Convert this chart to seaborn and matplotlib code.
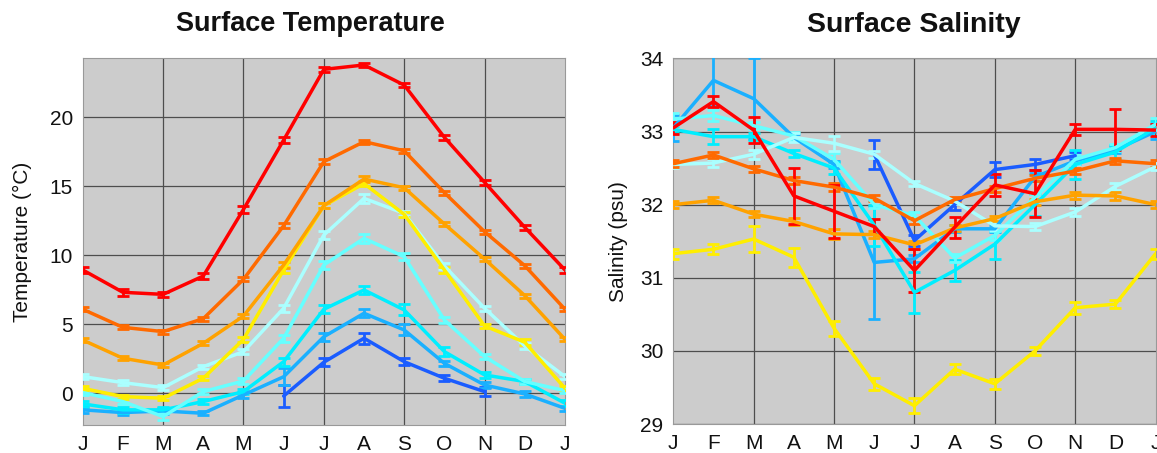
import numpy as np
import pandas as pd
import matplotlib
matplotlib.use("Agg")
import matplotlib.pyplot as plt
import seaborn as sns

# ---- data -------------------------------------------------------------
months = ["J", "F", "M", "A", "M", "J", "J", "A", "S", "O", "N", "D", "J"]
grid_months = [2, 4, 6, 8, 10]
nan = np.nan

stations = ["st1", "st2", "st3", "st4", "st5", "st6", "st7", "st8", "st9"]
colors = ["#ff0000", "#ff6a00", "#ffa200", "#ffee00", "#aaffff",
          "#66ffff", "#00eeff", "#1ab0ff", "#1a5cff"]

# surface temperature (deg C), monthly means and error half-widths
temp_st1 = [8.94, 7.32, 7.17, 8.50, 13.33, 18.36, 23.48, 23.80, 22.34, 18.55, 15.29, 12.03, 8.94]
temp_st2 = [6.09, 4.78, 4.47, 5.41, 8.26, 12.15, 16.79, 18.24, 17.58, 14.54, 11.71, 9.25, 6.09]
temp_st3 = [3.86, 2.54, 2.05, 3.62, 5.60, 9.30, 13.60, 15.53, 14.90, 12.27, 9.73, 7.08, 3.91]
temp_st4 = [0.36, -0.24, -0.36, 1.09, 3.91, 8.94, 13.60, 15.20, 12.97, 8.94, 4.88, 3.70, 0.36]
temp_st5 = [1.21, 0.77, 0.41, 1.93, 3.02, 6.16, 11.47, 14.13, 13.04, 9.23, 6.16, 3.43, 1.21]
temp_st6 = [0.05, -0.60, -1.69, 0.12, 0.89, 3.99, 9.30, 11.23, 9.90, 5.31, 2.66, 0.85, 0.19]
temp_st7 = [-0.77, -1.20, -1.20, -0.60, 0.12, 2.29, 6.09, 7.49, 6.04, 3.02, 1.33, 0.85, -0.72]
temp_st8 = [-1.20, -1.40, -1.28, -1.45, -0.12, 1.20, 4.10, 5.80, 4.59, 2.17, 0.60, -0.05, -1.09]
temp_st9 = [nan, nan, nan, nan, nan, -0.20, 2.25, 3.99, 2.29, 1.09, 0.12, nan, nan]

temp_err_st1 = [0.25, 0.25, 0.2, 0.2, 0.25, 0.25, 0.2, 0.15, 0.15, 0.2, 0.2, 0.2, 0.25]
temp_err_st2 = [0.15, 0.15, 0.15, 0.15, 0.15, 0.2, 0.2, 0.15, 0.15, 0.15, 0.15, 0.15, 0.15]
temp_err_st3 = [0.15, 0.15, 0.15, 0.15, 0.15, 0.2, 0.2, 0.2, 0.15, 0.15, 0.15, 0.15, 0.15]
temp_err_st4 = [0.15, 0.15, 0.15, 0.15, 0.2, 0.2, 0.2, 0.2, 0.2, 0.2, 0.15, 0.2, 0.15]
temp_err_st5 = [0.2, 0.2, 0.2, 0.15, 0.2, 0.25, 0.3, 0.3, 0.2, 0.2, 0.2, 0.2, 0.2]
temp_err_st6 = [0.2, 0.2, 0.25, 0.2, 0.2, 0.25, 0.3, 0.3, 0.25, 0.2, 0.2, 0.2, 0.2]
temp_err_st7 = [0.2, 0.2, 0.2, 0.2, 0.2, 0.3, 0.3, 0.3, 0.4, 0.3, 0.2, 0.2, 0.2]
temp_err_st8 = [0.2, 0.2, 0.2, 0.15, 0.2, 0.6, 0.3, 0.3, 0.4, 0.2, 0.2, 0.2, 0.2]
temp_err_st9 = [nan, nan, nan, nan, nan, 0.8, 0.3, 0.4, 0.25, 0.2, 0.35, nan, nan]

# surface salinity (psu), monthly means and error half-widths
sal_st1 = [33.05, 33.41, 33.02, 32.12, 31.91, 31.70, 31.10, 31.69, 32.27, 32.15, 33.03, 33.03, 33.02]
sal_st2 = [32.56, 32.68, 32.49, 32.33, 32.24, 32.09, 31.78, 32.07, 32.22, 32.36, 32.46, 32.60, 32.56]
sal_st3 = [32.00, 32.06, 31.87, 31.77, 31.60, 31.59, 31.45, 31.68, 31.81, 32.04, 32.13, 32.12, 32.00]
sal_st4 = [31.33, 31.39, 31.53, 31.28, 30.31, 29.55, 29.25, 29.75, 29.55, 30.00, 30.59, 30.64, 31.33]
sal_st5 = [32.55, 32.57, 32.69, 32.92, 32.84, 32.69, 32.29, 32.05, 31.71, 31.70, 31.90, 32.25, 32.52]
sal_st6 = [33.17, 33.22, 33.08, 32.94, 32.62, 32.00, 31.85, 31.27, 31.58, 32.10, 32.62, 32.78, 33.10]
sal_st7 = [33.03, 32.93, 32.93, 32.70, 32.50, 31.72, 30.80, 31.10, 31.46, 32.00, 32.55, 32.72, 33.05]
sal_st8 = [33.05, 33.70, 33.45, 32.92, 32.55, 31.21, 31.26, 31.67, 31.67, 32.38, 32.60, 32.75, 33.00]
sal_st9 = [nan, nan, nan, nan, nan, 32.69, 31.51, 32.00, 32.48, 32.55, 32.67, nan, nan]

sal_err_st1 = [0.08, 0.08, 0.18, 0.38, 0.36, 0.1, 0.3, 0.14, 0.15, 0.32, 0.08, 0.28, 0.08]
sal_err_st2 = [0.05, 0.04, 0.04, 0.05, 0.05, 0.04, 0.04, 0.04, 0.04, 0.04, 0.04, 0.04, 0.05]
sal_err_st3 = [0.05, 0.04, 0.04, 0.05, 0.07, 0.05, 0.05, 0.04, 0.04, 0.04, 0.05, 0.05, 0.05]
sal_err_st4 = [0.07, 0.07, 0.18, 0.13, 0.1, 0.08, 0.1, 0.07, 0.07, 0.05, 0.08, 0.06, 0.07]
sal_err_st5 = [0.05, 0.05, 0.06, 0.06, 0.1, 0.05, 0.04, 0.04, 0.05, 0.05, 0.05, 0.05, 0.05]
sal_err_st6 = [0.08, 0.08, 0.05, 0.05, 0.08, 0.05, 0.05, 0.05, 0.06, 0.05, 0.06, 0.05, 0.08]
sal_err_st7 = [0.05, 0.1, 0.05, 0.05, 0.08, 0.28, 0.28, 0.14, 0.2, 0.15, 0.2, 0.1, 0.1]
sal_err_st8 = [0.18, 0.35, 0.55, 0.05, 0.05, 0.77, 0.05, 0.05, 0.05, 0.05, 0.05, 0.05, 0.1]
sal_err_st9 = [nan, nan, nan, nan, nan, 0.2, 0.07, 0.07, 0.1, 0.08, 0.05, nan, nan]

temp_vals = [temp_st1, temp_st2, temp_st3, temp_st4, temp_st5, temp_st6, temp_st7, temp_st8, temp_st9]
temp_errs = [temp_err_st1, temp_err_st2, temp_err_st3, temp_err_st4, temp_err_st5,
             temp_err_st6, temp_err_st7, temp_err_st8, temp_err_st9]
sal_vals = [sal_st1, sal_st2, sal_st3, sal_st4, sal_st5, sal_st6, sal_st7, sal_st8, sal_st9]
sal_errs = [sal_err_st1, sal_err_st2, sal_err_st3, sal_err_st4, sal_err_st5,
            sal_err_st6, sal_err_st7, sal_err_st8, sal_err_st9]


def long_frame(values, errors):
    rows = []
    for name, v, e in zip(stations, values, errors):
        for i in range(len(months)):
            rows.append({"station": name, "month": i, "value": v[i], "err": e[i]})
    return pd.DataFrame(rows).dropna()


# ---- style ------------------------------------------------------------
sns.set_theme(style="ticks")
plt.rcParams["font.family"] = ["Liberation Sans", "DejaVu Sans"]
palette = dict(zip(stations, colors))

fig = plt.figure(figsize=(11.57, 4.53), dpi=100)
ax_t = fig.add_axes([0.0715, 0.0618, 0.4168, 0.810])
ax_s = fig.add_axes([0.5819, 0.0640, 0.4169, 0.807])

# draw cool colours first so the warm ones sit on top
draw_order = stations[::-1]


def draw_panel(ax, values, errors, ylim, yticks, ylabel, labelpad):
    ax.set_facecolor("#cccccc")
    # grid: horizontal at every y tick, vertical every second month
    for t in yticks:
        ax.axhline(t, color="#4d4d4d", linewidth=0.9, zorder=1)
    for m in grid_months:
        ax.axvline(m, color="#4d4d4d", linewidth=0.9, zorder=1)
    df = long_frame(values, errors)
    for name in draw_order:
        sub = df[df["station"] == name]
        ax.errorbar(sub["month"], sub["value"], yerr=sub["err"], fmt="none",
                    ecolor=palette[name], elinewidth=2.0, capsize=4.5,
                    capthick=2.0, zorder=3)
        sns.lineplot(data=sub, x="month", y="value", color=palette[name],
                     linewidth=2.5, ax=ax, legend=False, zorder=4,
                     errorbar=None, sort=True)
    ax.set_xlim(0, 12)
    ax.set_ylim(*ylim)
    ax.set_xticks(range(len(months)))
    ax.set_xticklabels(months)
    ax.set_yticks(yticks)
    ax.grid(False)
    ax.tick_params(axis="both", which="both", length=0, labelsize=15,
                   colors="#111111", pad=7)
    ax.set_xlabel("")
    ax.set_ylabel(ylabel, fontsize=15, color="#111111", labelpad=labelpad)
    for sp in ax.spines.values():
        sp.set_color("#999999")
        sp.set_linewidth(0.8)


draw_panel(ax_t, temp_vals, temp_errs, (-2.3, 24.3), [0, 5, 10, 15, 20],
           "Temperature (\u00b0C)", 13)
draw_panel(ax_s, sal_vals, sal_errs, (29, 34), [29, 30, 31, 32, 33, 34],
           "Salinity (psu)", 9)

fig.text(310 / 1157, 1 - 24 / 453, "Surface Temperature", ha="center",
         va="center", fontsize=19.5, fontweight="bold", color="#111111")
fig.text(914 / 1157, 1 - 25 / 453, "Surface Salinity", ha="center",
         va="center", fontsize=20.5, fontweight="bold", color="#111111")

fig.savefig("out.png", dpi=100)
